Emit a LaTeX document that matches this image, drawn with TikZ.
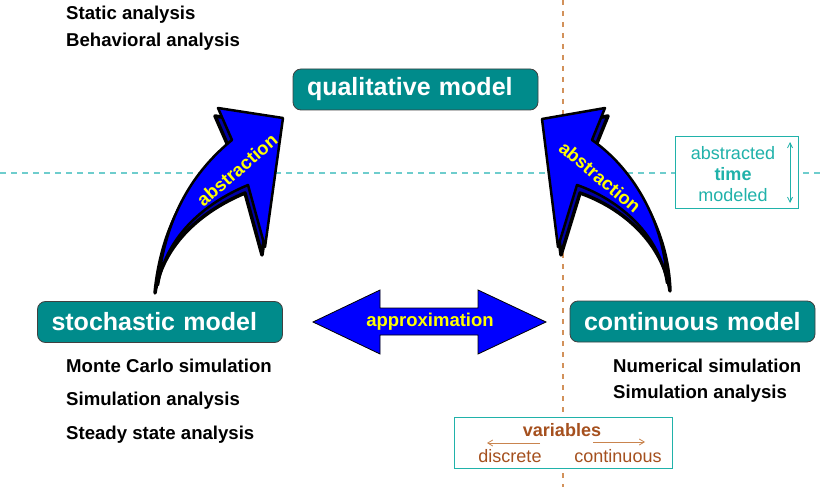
\documentclass[tikz,border=0pt]{standalone}
\usepackage{fontspec}
\setmainfont{Liberation Sans}
\usetikzlibrary{arrows.meta}

\definecolor{modelteal}{RGB}{0,139,139}
\definecolor{timeteal}{RGB}{32,178,170}
\definecolor{hdashcol}{RGB}{110,205,205}
\definecolor{vdashcol}{RGB}{210,145,90}
\definecolor{varbrown}{RGB}{165,80,30}
\definecolor{arrowblue}{RGB}{0,0,255}
\definecolor{arrowdark}{RGB}{0,0,165}
\definecolor{labelyellow}{RGB}{255,255,0}

\tikzset{
  modelbox/.style={rounded corners=8pt, fill=modelteal, draw=black!75, line width=0.8pt,
    text=white, font=\fontsize{25}{28}\selectfont\bfseries, inner xsep=14pt, inner ysep=0pt,
    minimum height=41pt, text width=217pt, align=left},
  infotext/.style={anchor=base west, inner sep=0pt, font=\fontsize{18.6}{21}\selectfont\bfseries},
  arrowlabel/.style={text=labelyellow, inner sep=0pt, font=\fontsize{18.5}{21}\selectfont\bfseries},
  frontface/.style={fill=arrowblue, draw=black, line width=2.5pt, line join=round},
  sideface/.style={fill=arrowdark, draw=black, line width=3.5pt, line join=round},
}

\begin{document}
\begin{tikzpicture}[x=1pt, y=-1pt]
\useasboundingbox (0,0) rectangle (820,487);

  % Guide lines
  \draw[hdashcol, line width=1.2pt, dash pattern=on 6pt off 5pt] (0,173) -- (820,173);
  \draw[vdashcol, line width=1.2pt, dash pattern=on 5pt off 6pt] (563,0) -- (563,487);

  % Models
  \node[modelbox] (qual)  at (415.5,89.5) {qualitative model};
  \node[modelbox] (stoch) at (160,322)    {stochastic model};
  \node[modelbox] (cont)  at (692.5,321.5) {continuous model};

  % Analyses
  \node[infotext] (static) at (66,20) {Static analysis};
  \node[infotext] (behav)  at (66,47) {Behavioral analysis};
  \node[infotext] (monte)  at (66,372) {Monte Carlo simulation};
  \node[infotext] (simleft) at (66,405) {Simulation analysis};
  \node[infotext] (steady) at (66,439) {Steady state analysis};
  \node[infotext] (numsim) at (613,372) {Numerical simulation};
  \node[infotext] (simright) at (613,398) {Simulation analysis};

  % Left abstraction arrow
  \begin{scope}[shift={(-3,8)}]
    \draw[sideface] (158,285) .. controls (165,215) and (195,170) .. (232,140)
      -- (218,108) -- (283,118) -- (265,247) -- (248,185)
      .. controls (200,205) and (165,240) .. cycle;
  \end{scope}
  \draw[frontface] (158,285) .. controls (165,215) and (195,170) .. (232,140)
    -- (218,108) -- (283,118) -- (265,247) -- (248,185)
    .. controls (200,205) and (165,240) .. cycle;
  \node[arrowlabel, rotate=41] (absleft) at (237,170) {abstraction};

  % Right abstraction arrow
  \begin{scope}[shift={(3,8)}]
    \draw[sideface] (542,119) -- (605,108) -- (592,140)
      .. controls (635,170) and (665,225) .. (667,283)
      .. controls (660,235) and (620,200) .. (577,185)
      -- (558,247) -- cycle;
  \end{scope}
  \draw[frontface] (542,119) -- (605,108) -- (592,140)
    .. controls (635,170) and (665,225) .. (667,283)
    .. controls (660,235) and (620,200) .. (577,185)
    -- (558,247) -- cycle;
  \node[arrowlabel, rotate=-40] (absright) at (600,177) {abstraction};

  % Approximation arrow
  \draw[fill=arrowblue, draw=black, line width=0.8pt] (313,322) -- (380,290) -- (380,308)
    -- (478,308) -- (478,290) -- (546,322) -- (478,354) -- (478,335)
    -- (380,335) -- (380,354) -- cycle;
  \node[arrowlabel] (approx) at (430,322) {approximation};

  % Time box
  \node[draw=timeteal, fill=white, line width=1pt, minimum width=123pt, minimum height=72pt]
    (timebox) at (736.5,172) {};
  \node[text=timeteal, align=center, font=\fontsize{18}{21}\selectfont] (timetxt) at (733,174)
    {abstracted\\\textbf{time}\\modeled};
  \coordinate (tup) at (790,142);
  \coordinate (tdown) at (790,203);
  \draw[timeteal, line width=0.8pt, {Straight Barb[length=5pt,width=5pt]}-{Straight Barb[length=5pt,width=5pt]}] (tup) -- (tdown);

  % Variables box
  \node[draw=timeteal, fill=white, line width=1pt, minimum width=218pt, minimum height=51pt]
    (varbox) at (563,442.5) {};
  \node[text=varbrown, font=\fontsize{18}{21}\selectfont\bfseries] (vars) at (562,430) {variables};
  \node[text=varbrown, font=\fontsize{18}{21}\selectfont] (discrete) at (510,456) {discrete};
  \node[text=varbrown, font=\fontsize{18}{21}\selectfont] (continuous) at (618,456) {continuous};
  \coordinate (dstart) at (540,443);
  \coordinate (dend) at (487,443);
  \coordinate (cstart) at (593,442);
  \coordinate (cend) at (645,442);
  \draw[vdashcol!80!varbrown, line width=0.8pt, -{Straight Barb[length=5pt,width=6pt]}] (dstart) -- (dend);
  \draw[vdashcol!80!varbrown, line width=0.8pt, -{Straight Barb[length=5pt,width=6pt]}] (cstart) -- (cend);
\end{tikzpicture}
\end{document}
